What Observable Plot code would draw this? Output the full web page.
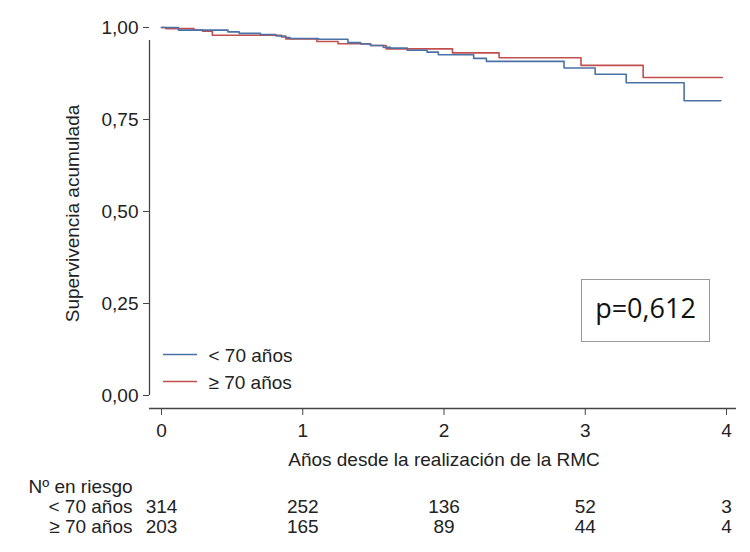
<!DOCTYPE html>
<html><head><meta charset="utf-8">
<script src="https://cdn.jsdelivr.net/npm/d3@7"></script>
<script src="https://cdn.jsdelivr.net/npm/@observablehq/plot@0.6"></script>
<style>
body{margin:0;background:#fff;}
#chart svg{font-family:"Liberation Sans",Arial,sans-serif;}
</style>
</head><body><div id="chart"></div>
<script>
const groups = ["< 70 años", "≥ 70 años"];
const colors = ["#4a72a6", "#c0504d"];
const timeLt70 = [0, 0.12, 0.47, 0.55, 0.70, 0.81, 0.88, 0.91, 1.11, 1.32, 1.41, 1.48, 1.57, 1.62, 1.74, 1.88, 1.96, 2.21, 2.30, 2.85, 3.07, 3.29, 3.70, 3.96];
const survLt70 = [1.000, 0.993, 0.988, 0.984, 0.981, 0.977, 0.973, 0.970, 0.968, 0.959, 0.955, 0.951, 0.946, 0.944, 0.938, 0.933, 0.926, 0.916, 0.908, 0.890, 0.873, 0.850, 0.801, 0.801];
const timeGe70 = [0, 0.03, 0.23, 0.29, 0.36, 0.85, 0.88, 1.10, 1.25, 1.48, 1.59, 2.06, 2.39, 2.97, 3.41, 3.97];
const survGe70 = [1.000, 0.997, 0.993, 0.990, 0.979, 0.974, 0.969, 0.962, 0.956, 0.951, 0.942, 0.931, 0.918, 0.897, 0.864, 0.864];
const riskTimes = [0, 1, 2, 3, 4];
const riskLt70 = [314, 252, 136, 52, 3];
const riskGe70 = [203, 165, 89, 44, 4];
const xTicks = [0, 1, 2, 3, 4];
const yTicks = [0, 0.25, 0.5, 0.75, 1];
const xLabel = "Años desde la realización de la RMC";
const yLabel = "Supervivencia acumulada";
const riskTitle = "Nº en riesgo";
const pLabel = "p=0,612";

const curves = [
  ...timeLt70.map((t, i) => ({t, s: survLt70[i], g: groups[0]})),
  ...timeGe70.map((t, i) => ({t, s: survGe70[i], g: groups[1]}))
];
const risk1 = riskTimes.map((t, i) => ({t, n: riskLt70[i]}));
const risk2 = riskTimes.map((t, i) => ({t, n: riskGe70[i]}));

const ink = "#222";
const fs = 19;
const txt = {fontSize: fs, fill: ink, lineAnchor: "middle"};

const chart = Plot.plot({
  width: 750,
  height: 552,
  marginLeft: 161,
  marginRight: 24,
  marginTop: 27,
  marginBottom: 157,
  style: {background: "#fff", color: ink, fontFamily: "Liberation Sans, Arial, sans-serif"},
  x: {domain: [0, 4]},
  y: {domain: [0, 1]},
  color: {domain: groups, range: colors},
  marks: [
    Plot.ruleX([0], {y1: 0, y2: 1, dx: -12, insetBottom: -13, stroke: "#444", strokeWidth: 1.3}),
    Plot.ruleY([0], {x1: 0, x2: 4, dy: 13, insetLeft: -12, insetRight: -10, stroke: "#444", strokeWidth: 1.3}),
    Plot.axisY({ticks: yTicks, tickFormat: d => d.toFixed(2).replace(".", ","), dx: -12, tickSize: 6, tickPadding: 5, fontSize: fs, label: null, stroke: "#444"}),
    Plot.axisX({ticks: xTicks, tickFormat: d => String(d), dy: 13, tickSize: 7, tickPadding: 8, fontSize: fs, label: null, stroke: "#444"}),
    Plot.text([yLabel], {...txt, frameAnchor: "left", textAnchor: "middle", rotate: -90, dx: -89, dy: 2}),
    Plot.text([xLabel], {...txt, frameAnchor: "bottom", dy: 64}),
    Plot.line(curves.filter(d => d.g === groups[1]), {x: "t", y: "s", stroke: "g", curve: "step-after", strokeWidth: 1.6}),
    Plot.line(curves.filter(d => d.g === groups[0]), {x: "t", y: "s", stroke: "g", curve: "step-after", strokeWidth: 1.6}),
    Plot.text([riskTitle], {...txt, frameAnchor: "bottom-left", dx: -133, dy: 91, textAnchor: "start"}),
    Plot.text([groups[0]], {...txt, frameAnchor: "bottom-left", dx: -29, dy: 111, textAnchor: "end"}),
    Plot.text([groups[1]], {...txt, frameAnchor: "bottom-left", dx: -29, dy: 131, textAnchor: "end"}),
    Plot.text(risk1, {...txt, x: "t", text: "n", frameAnchor: "bottom", dy: 111}),
    Plot.text(risk2, {...txt, x: "t", text: "n", frameAnchor: "bottom", dy: 131}),
    Plot.text([groups[0]], {...txt, frameAnchor: "bottom-left", dx: 47, dy: -40, textAnchor: "start"}),
    Plot.text([groups[1]], {...txt, frameAnchor: "bottom-left", dx: 47, dy: -13, textAnchor: "start"})
  ]
});

document.getElementById("chart").appendChild(chart);

// legend swatches and p-value box
const svg = d3.select(chart);
const legY = [354.5, 381.5];
legY.forEach((y, i) => {
  svg.append("line").attr("x1", 163).attr("x2", 197).attr("y1", y).attr("y2", y)
    .attr("stroke", colors[i]).attr("stroke-width", 1.6);
});
svg.append("rect").attr("x", 581.5).attr("y", 279.5).attr("width", 128).attr("height", 62)
  .attr("fill", "#fff").attr("stroke", "#999").attr("stroke-width", 1);
svg.append("text").attr("x", 645.5).attr("y", 318).attr("text-anchor", "middle")
  .attr("font-family", "Open Sans, sans-serif").attr("font-size", 27).attr("fill", "#111").text(pLabel);
</script>
</body></html>
